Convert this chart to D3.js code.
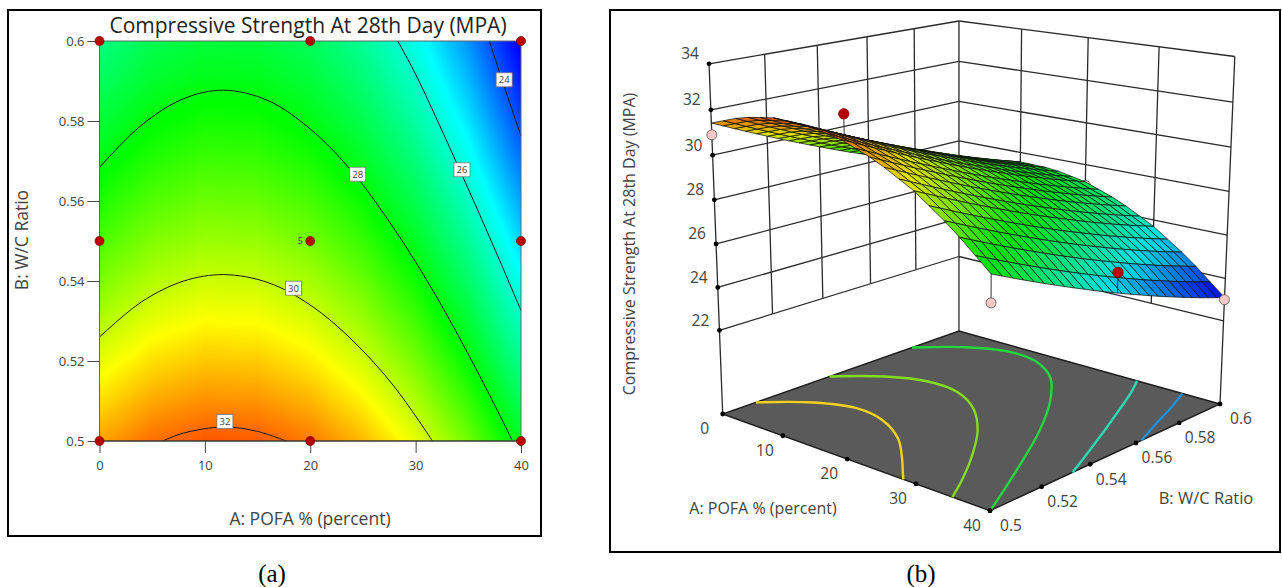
<!DOCTYPE html>
<html>
<head>
<meta charset="utf-8">
<script src="https://cdn.jsdelivr.net/npm/d3@7"></script>
<style>
html, body { margin: 0; background: #fff; }
text { font-family: "Open Sans", sans-serif; fill: #444; }
</style>
</head>
<body>
<script>
// values
var pofaGrid = [0, 5, 10, 15, 20, 25, 30, 35, 40];
var wcGrid = [0.50, 0.51, 0.52, 0.53, 0.54, 0.55, 0.56, 0.57, 0.58, 0.59, 0.60];
var strength = [
  [31.42, 31.94, 32.18, 32.14, 31.82, 31.22, 30.35, 29.19, 27.75],
  [30.86, 31.38, 31.62, 31.58, 31.26, 30.66, 29.79, 28.63, 27.19],
  [30.32, 30.84, 31.08, 31.04, 30.72, 30.12, 29.25, 28.09, 26.65],
  [29.80, 30.32, 30.56, 30.52, 30.20, 29.60, 28.73, 27.57, 26.13],
  [29.30, 29.82, 30.06, 30.02, 29.70, 29.10, 28.23, 27.07, 25.63],
  [28.82, 29.34, 29.58, 29.54, 29.22, 28.62, 27.75, 26.59, 25.15],
  [28.37, 28.89, 29.13, 29.09, 28.77, 28.17, 27.30, 26.14, 24.70],
  [27.93, 28.45, 28.69, 28.65, 28.33, 27.73, 26.86, 25.70, 24.26],
  [27.52, 28.04, 28.28, 28.24, 27.92, 27.32, 26.45, 25.29, 23.85],
  [27.13, 27.65, 27.89, 27.85, 27.53, 26.93, 26.06, 24.90, 23.46],
  [26.77, 27.29, 27.53, 27.49, 27.17, 26.57, 25.70, 24.54, 23.10]
];

var pofaTicks = [0, 10, 20, 30, 40];
var wcTicks = [0.5, 0.52, 0.54, 0.56, 0.58, 0.6];
var zTicks = [22, 24, 26, 28, 30, 32, 34];

var colorStops = [23.2, 25.5, 28.1, 30.55, 33];
var colorNames = ["#0000ff", "#00ffff", "#00ff00", "#ffff00", "#ff0000"];

// contour lines of the flat plot, [POFA, W/C]
var contour24 = [[37, 0.6], [38, 0.5919], [39, 0.584], [40, 0.5763]];
var contour26 = [[28.3, 0.6], [30, 0.5917], [32, 0.5805], [34, 0.5689], [36, 0.5571], [38, 0.545], [40, 0.5326]];
var contour28 = [[0, 0.5684], [4, 0.579], [8, 0.5856], [11.8, 0.5877], [16, 0.5851], [20, 0.578], [24, 0.5673], [28, 0.5529], [32, 0.536], [36, 0.5167], [39.2, 0.5]];
var contour30 = [[0, 0.526], [4, 0.5348], [8, 0.54], [11.8, 0.5416], [16, 0.5396], [20, 0.534], [24, 0.5252], [28, 0.5135], [31.6, 0.5]];
var contour32 = [[6, 0.5], [8, 0.502], [11.8, 0.5035], [15, 0.5024], [17.7, 0.5]];
var contourLines = [contour24, contour26, contour28, contour30, contour32];

var contourLabels = [
  ["24", 38.4, 0.5903], ["26", 34.4, 0.5678], ["28", 24.5, 0.5667], ["30", 18.4, 0.5382], ["32", 11.9, 0.5049]
];

var designA = [0, 20, 40, 0, 20, 40, 0, 20, 40];
var designB = [0.5, 0.5, 0.5, 0.55, 0.55, 0.55, 0.6, 0.6, 0.6];
var designZ = [30.9, 31.65, 26.6, 30.6, 28.8, 26.05, 27.0, 27.0, 23.0];

// contour lines on the floor of the 3D plot
var floor245 = [[34.8, 0.6], [36.5, 0.5885], [38, 0.577], [40, 0.5625]];
var floor26 = contour26;
var floor278 = [[0, 0.578], [5, 0.5895], [10, 0.595], [15, 0.5935], [20, 0.585], [25, 0.5695], [30, 0.5495], [35, 0.5256], [38, 0.5105], [40, 0.5]];
var floor292 = [[0, 0.5421], [5, 0.5531], [10, 0.5584], [15, 0.5575], [20, 0.5504], [25, 0.538], [30, 0.5209], [33, 0.5089], [35, 0.5]];
var floor305 = [[0, 0.5125], [5, 0.5235], [10, 0.5285], [15, 0.5265], [20, 0.5195], [24, 0.5105], [26.8, 0.5035], [28.2, 0.5]];
var floorLines = [floor245, floor26, floor278, floor292, floor305];
var floorColors = ["#1e90dc", "#2bd8b4", "#22d83c", "#84dc1e", "#f2d21e"];

var width = 1282, height = 587;
var svg = d3.select("body").append("svg")
    .attr("width", width)
    .attr("height", height)
    .style("display", "block");

var color = d3.scaleLinear().domain(colorStops).range(colorNames).clamp(true);

// bilinear lookup in the table
var aIndex = d3.scaleLinear().domain(pofaGrid).range(d3.range(pofaGrid.length));
var bIndex = d3.scaleLinear().domain(wcGrid).range(d3.range(wcGrid.length));
function strengthAt(a, b) {
    var i = aIndex(a), j = bIndex(b);
    var i0 = Math.min(Math.floor(i), pofaGrid.length - 2), j0 = Math.min(Math.floor(j), wcGrid.length - 2);
    var ti = i - i0, tj = j - j0;
    var low = strength[j0][i0] * (1 - ti) + strength[j0][i0 + 1] * ti;
    var up = strength[j0 + 1][i0] * (1 - ti) + strength[j0 + 1][i0 + 1] * ti;
    return low * (1 - tj) + up * tj;
}

// frames and captions
svg.append("rect").attr("x", 8).attr("y", 10).attr("width", 533).attr("height", 526)
    .attr("fill", "none").attr("stroke", "#000").attr("stroke-width", 2);
svg.append("rect").attr("x", 610).attr("y", 10).attr("width", 670).attr("height", 542)
    .attr("fill", "none").attr("stroke", "#000").attr("stroke-width", 2);
svg.selectAll(".caption").data([["(a)", 272], ["(b)", 921]]).enter().append("text")
    .attr("x", d => d[1]).attr("y", 582)
    .attr("text-anchor", "middle")
    .style("font-family", "'Liberation Serif', serif")
    .style("font-size", "25px").style("fill", "#000")
    .text(d => d[0]);

// ---------- (a) flat contour plot ----------
var x = d3.scaleLinear().domain([0, 40]).range([99.5, 521]);
var y = d3.scaleLinear().domain([0.5, 0.6]).range([441, 41]);

var pw = Math.round(x(40) - x(0)), ph = Math.round(y(0.5) - y(0.6));
var canvas = document.createElement("canvas");
canvas.width = pw;
canvas.height = ph;
var ctx = canvas.getContext("2d");
var img = ctx.createImageData(pw, ph);
for (var py = 0; py < ph; py++) {
    for (var px = 0; px < pw; px++) {
        var c = d3.rgb(color(strengthAt(x.invert(x(0) + px + 0.5), y.invert(y(0.6) + py + 0.5))));
        var k = (py * pw + px) * 4;
        img.data[k] = c.r;
        img.data[k + 1] = c.g;
        img.data[k + 2] = c.b;
        img.data[k + 3] = 255;
    }
}
ctx.putImageData(img, 0, 0);
svg.append("image")
    .attr("x", x(0)).attr("y", y(0.6))
    .attr("width", x(40) - x(0)).attr("height", y(0.5) - y(0.6))
    .attr("preserveAspectRatio", "none")
    .attr("href", canvas.toDataURL());

var contourPath = d3.line().x(d => x(d[0])).y(d => y(d[1])).curve(d3.curveCatmullRom);
svg.selectAll(".contour").data(contourLines).enter().append("path")
    .attr("d", contourPath)
    .attr("fill", "none").attr("stroke", "#1a1a1a").attr("stroke-width", 1);

svg.append("rect")
    .attr("x", x(0)).attr("y", y(0.6))
    .attr("width", x(40) - x(0)).attr("height", y(0.5) - y(0.6))
    .attr("fill", "none").attr("stroke", "#666").attr("stroke-width", 1);
svg.append("line").attr("x1", x(0)).attr("x2", x(40)).attr("y1", y(0.5)).attr("y2", y(0.5))
    .attr("stroke", "#222").attr("stroke-width", 1);

var xAxis = svg.append("g").attr("transform", "translate(0," + y(0.5) + ")")
    .call(d3.axisBottom(x).tickValues(pofaTicks).tickSize(12).tickPadding(8));
var yAxis = svg.append("g").attr("transform", "translate(" + x(0) + ",0)")
    .call(d3.axisLeft(y).tickValues(wcTicks).tickFormat(d3.format("~g")).tickSize(12).tickPadding(3));
xAxis.select(".domain").remove();
yAxis.select(".domain").remove();
svg.selectAll(".tick line").attr("stroke", "#444");
svg.selectAll(".tick text").style("font-size", "13px").style("font-family", "'Open Sans', sans-serif").style("fill", "#444");

var boxes = svg.selectAll(".clabel").data(contourLabels).enter().append("g")
    .attr("transform", d => "translate(" + x(d[1]) + "," + y(d[2]) + ")");
boxes.append("rect").attr("x", -8).attr("y", -7).attr("width", 16).attr("height", 14)
    .attr("fill", "#fff").attr("stroke", "#777").attr("stroke-width", 0.8);
boxes.append("text").attr("text-anchor", "middle").attr("dy", "0.35em")
    .style("font-size", "9.5px").text(d => d[0]);

svg.selectAll(".design").data(d3.range(designA.length)).enter().append("circle")
    .attr("cx", i => x(designA[i])).attr("cy", i => y(designB[i]))
    .attr("r", 4.5)
    .attr("fill", "#b90000").attr("stroke", "#700").attr("stroke-width", 0.7);
svg.append("text").attr("x", x(20) - 10).attr("y", y(0.55)).attr("dy", "0.35em")
    .attr("text-anchor", "middle").style("font-size", "9px").text("5");

svg.append("text").attr("x", 308).attr("y", 33)
    .attr("text-anchor", "middle").style("font-size", "21px").style("fill", "#222")
    .text("Compressive Strength At 28th Day (MPA)");
svg.append("text").attr("x", 310).attr("y", 525)
    .attr("text-anchor", "middle").style("font-size", "17.5px")
    .text("A: POFA % (percent)");
svg.append("text").attr("transform", "translate(28,240) rotate(-90)")
    .attr("text-anchor", "middle").style("font-size", "17.5px")
    .text("B: W/C Ratio");

// ---------- (b) 3D surface ----------
// floor corners on the page and the point where the verticals meet
var cornerLeft = [722.7, 414], cornerFront = [990, 510.7], cornerRight = [1220, 404], cornerBack = [959, 331];
var vanish = [960, 6500];

var dx1 = cornerFront[0] - cornerRight[0], dx2 = cornerBack[0] - cornerRight[0];
var dx3 = cornerLeft[0] - cornerFront[0] + cornerRight[0] - cornerBack[0];
var dy1 = cornerFront[1] - cornerRight[1], dy2 = cornerBack[1] - cornerRight[1];
var dy3 = cornerLeft[1] - cornerFront[1] + cornerRight[1] - cornerBack[1];
var den = dx1 * dy2 - dx2 * dy1;
var hg = (dx3 * dy2 - dx2 * dy3) / den, hh = (dx1 * dy3 - dx3 * dy1) / den;
var ha = cornerFront[0] - cornerLeft[0] + hg * cornerFront[0], hb = cornerBack[0] - cornerLeft[0] + hh * cornerBack[0];
var hd = cornerFront[1] - cornerLeft[1] + hg * cornerFront[1], he = cornerBack[1] - cornerLeft[1] + hh * cornerBack[1];

var uScale = d3.scaleLinear().domain([0, 40]).range([0, 1]);
var vScale = d3.scaleLinear().domain([0.5, 0.6]).range([0, 1]);

// z scale tuned on the back corner, where z 34 sits at y 21 and z 22 at y 256.5
var wBack = 1 + hh;
var zScale = d3.scaleLinear().domain([22, 34]).range([
    wBack * (cornerBack[1] - 256.5) / (256.5 - vanish[1]),
    wBack * (cornerBack[1] - 21) / (21 - vanish[1])
]);

function project(a, b, z) {
    var u = uScale(a), v = vScale(b);
    var s = z === null ? 0 : zScale(z);
    var w = hg * u + hh * v + 1;
    var px = ha * u + hb * v + cornerLeft[0];
    var py = hd * u + he * v + cornerLeft[1];
    return [(px + s * vanish[0]) / (w + s), (py + s * vanish[1]) / (w + s)];
}

var line3d = d3.line();
function wall(p, q) {
    svg.append("path").attr("d", line3d([p, q]))
        .attr("fill", "none").attr("stroke", "#2a2a2a").attr("stroke-width", 1.3);
}

// walls
zTicks.forEach(function (z) {
    wall(project(0, 0.5, z), project(0, 0.6, z));
    wall(project(0, 0.6, z), project(40, 0.6, z));
});
wcTicks.slice(1, -1).forEach(function (b) {
    wall(project(0, b, 22), project(0, b, 34));
});
pofaTicks.slice(1, -1).forEach(function (a) {
    wall(project(a, 0.6, 22), project(a, 0.6, 34));
});
wall(project(0, 0.5, null), project(0, 0.5, 34));
wall(project(0, 0.6, null), project(0, 0.6, 34));
wall(project(40, 0.6, null), project(40, 0.6, 34));

// floor
svg.append("path")
    .attr("d", line3d([project(0, 0.5, null), project(40, 0.5, null), project(40, 0.6, null), project(0, 0.6, null)]) + "Z")
    .attr("fill", "#5a5a5a").attr("stroke", "#1c1c1c").attr("stroke-width", 1.4);

var floorPath = d3.line().x(d => project(d[0], d[1], null)[0]).y(d => project(d[0], d[1], null)[1]).curve(d3.curveCatmullRom);
svg.selectAll(".floorline").data(floorLines).enter().append("path")
    .attr("d", floorPath)
    .attr("fill", "none").attr("stroke-width", 2.4)
    .attr("stroke", (d, i) => floorColors[i]);

// tick dots and labels
function tickDot(p, label, ox, oy) {
    svg.append("circle").attr("cx", p[0]).attr("cy", p[1]).attr("r", 2.4).attr("fill", "#000");
    svg.append("text").attr("x", p[0] + ox).attr("y", p[1] + oy).attr("dy", "0.35em")
        .attr("text-anchor", "middle").style("font-size", "15.5px").text(label);
}
zTicks.forEach(z => tickDot(project(0, 0.5, z), z, -19, -10));
pofaTicks.forEach(a => tickDot(project(a, 0.5, null), a, -18, 15));
wcTicks.forEach(b => tickDot(project(40, b, null), d3.format("~g")(b), 21, 15));

function designPoint(i) {
    var a = designA[i], b = designB[i], z = designZ[i];
    var p = project(a, b, z), q = project(a, b, strengthAt(a, b));
    var above = z > strengthAt(a, b);
    svg.append("path").attr("d", line3d([p, q])).attr("stroke", "#333").attr("stroke-width", 1);
    svg.append("circle").attr("cx", p[0]).attr("cy", p[1]).attr("r", above ? 5.2 : 5)
        .attr("fill", above ? "#b90000" : "#f8c8c8")
        .attr("stroke", above ? "#700" : "#555").attr("stroke-width", 0.8);
}

// points behind the surface go first
[1, 3, 4, 6, 7].forEach(designPoint);

// surface, painted from the back corner to the front one
var meshA = d3.range(0, 40.001, 40 / 20);
var meshB = d3.range(0.6, 0.4999, -0.1 / 25);
var quads = [];
for (var ia = 0; ia < meshA.length - 1; ia++) {
    for (var ib = 0; ib < meshB.length - 1; ib++) {
        quads.push([meshA[ia], meshA[ia + 1], Math.min(meshB[ib], 0.6), Math.max(meshB[ib + 1], 0.5)]);
    }
}
svg.append("g").selectAll("path").data(quads).enter().append("path")
    .attr("d", function (q) {
        return line3d([[q[0], q[2]], [q[1], q[2]], [q[1], q[3]], [q[0], q[3]]]
            .map(d => project(d[0], d[1], strengthAt(d[0], d[1])))) + "Z";
    })
    .attr("fill", q => d3.rgb(color(strengthAt((q[0] + q[1]) / 2, (q[2] + q[3]) / 2))).darker(0.35))
    .attr("stroke", "#0c0c0c").attr("stroke-width", 0.8).attr("stroke-opacity", 0.9);

[0, 2, 5, 8].forEach(designPoint);

svg.append("text").attr("x", 763).attr("y", 508).attr("dy", "0.35em")
    .attr("text-anchor", "middle").style("font-size", "16px").text("A: POFA % (percent)");
svg.append("text").attr("x", 1206).attr("y", 498).attr("dy", "0.35em")
    .attr("text-anchor", "middle").style("font-size", "16.5px").text("B: W/C Ratio");
svg.append("text").attr("transform", "translate(635,244) rotate(-90)")
    .attr("text-anchor", "middle").style("font-size", "16px")
    .text("Compressive Strength At 28th Day (MPA)");
</script>
</body>
</html>
